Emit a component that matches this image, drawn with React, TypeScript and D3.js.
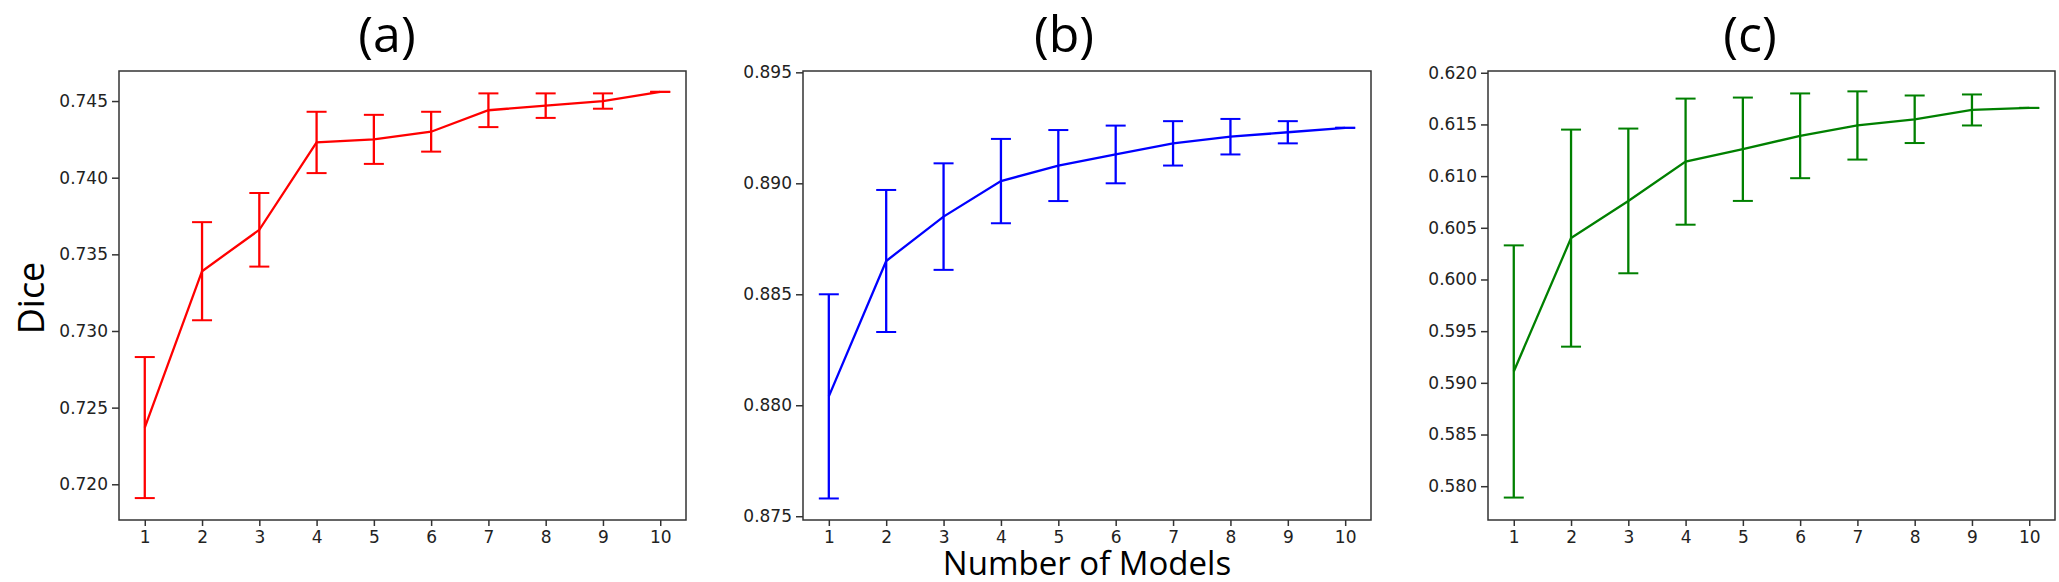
import React, { useEffect, useRef } from 'react';
import * as d3 from 'd3';

// number of models in the ensemble
const modelCounts = [1, 2, 3, 4, 5, 6, 7, 8, 9, 10];

// (a)
const diceA = [0.7237, 0.7339, 0.7366, 0.7423, 0.7425, 0.7430, 0.7444, 0.7447, 0.7450, 0.7456];
const errA = [0.0046, 0.0032, 0.0024, 0.0020, 0.0016, 0.0013, 0.0011, 0.0008, 0.0005, 0.0000];
const ticksA = [0.720, 0.725, 0.730, 0.735, 0.740, 0.745];

// (b)
const diceB = [0.8804, 0.8865, 0.8885, 0.8901, 0.8908, 0.8913, 0.8918, 0.8921, 0.8923, 0.8925];
const errB = [0.0046, 0.0032, 0.0024, 0.0019, 0.0016, 0.0013, 0.0010, 0.0008, 0.0005, 0.0000];
const ticksB = [0.875, 0.880, 0.885, 0.890, 0.895];

// (c)
const diceC = [0.5911, 0.6040, 0.6076, 0.6114, 0.6126, 0.6139, 0.6149, 0.6155, 0.6164, 0.6166];
const errC = [0.0122, 0.0105, 0.0070, 0.0061, 0.0050, 0.0041, 0.0033, 0.0023, 0.0015, 0.0000];
const ticksC = [0.580, 0.585, 0.590, 0.595, 0.600, 0.605, 0.610, 0.615, 0.620];

const panels = [
  { title: '(a)', values: diceA, errors: errA, ticks: ticksA, domain: [0.71767, 0.74696], color: '#ff0000', left: 119, right: 686, titleX: 387 },
  { title: '(b)', values: diceB, errors: errB, ticks: ticksB, domain: [0.87483, 0.89506], color: '#0000ff', left: 803, right: 1371, titleX: 1064 },
  { title: '(c)', values: diceC, errors: errC, ticks: ticksC, domain: [0.57673, 0.62017], color: '#008000', left: 1488, right: 2055, titleX: 1750 },
];

const WIDTH = 2059;
const HEIGHT = 582;
const TOP = 71;
const BOTTOM = 520;

const App: React.FC = () => {
  const svgRef = useRef<SVGSVGElement>(null);

  useEffect(() => {
    if (!svgRef.current) return;
    const svg = d3.select(svgRef.current);
    svg.selectAll('*').remove();

    svg.append('rect').attr('width', WIDTH).attr('height', HEIGHT).attr('fill', '#fff');

    panels.forEach(p => {
      const x = d3.scaleLinear().domain([0.55, 10.45]).range([p.left, p.right]);
      const y = d3.scaleLinear().domain(p.domain).range([BOTTOM, TOP]);
      const g = svg.append('g');

      // y axis
      const yAxis = g.append('g')
        .attr('transform', `translate(${p.left},0)`)
        .call(d3.axisLeft(y).tickValues(p.ticks).tickFormat(d3.format('.3f')).tickSize(7).tickPadding(4));
      yAxis.select('.domain').remove();
      yAxis.selectAll('line').attr('stroke', '#333').attr('stroke-width', 1.5);
      yAxis.selectAll('text')
        .attr('font-family', 'DejaVu Sans')
        .attr('font-size', 17)
        .attr('fill', '#222');

      // x axis
      const xAxis = g.append('g')
        .attr('transform', `translate(0,${BOTTOM})`)
        .call(d3.axisBottom(x).tickValues(modelCounts).tickFormat(d3.format('d')).tickSize(6).tickPadding(5));
      xAxis.select('.domain').remove();
      xAxis.selectAll('line').attr('stroke', '#333').attr('stroke-width', 1.5);
      xAxis.selectAll('text')
        .attr('font-family', 'DejaVu Sans')
        .attr('font-size', 17)
        .attr('fill', '#222');

      // frame
      g.append('rect')
        .attr('x', p.left)
        .attr('y', TOP)
        .attr('width', p.right - p.left)
        .attr('height', BOTTOM - TOP)
        .attr('fill', 'none')
        .attr('stroke', '#333')
        .attr('stroke-width', 1.5);

      const pts = modelCounts.map((m, i) => ({ m, v: p.values[i], e: p.errors[i] }));

      // mean line
      const line = d3.line<{ m: number; v: number }>().x(d => x(d.m)).y(d => y(d.v));
      g.append('path')
        .datum(pts)
        .attr('d', line)
        .attr('fill', 'none')
        .attr('stroke', p.color)
        .attr('stroke-width', 2.3);

      // error bars
      const eb = g.selectAll('.eb').data(pts).enter().append('g').attr('class', 'eb');
      eb.append('line')
        .attr('x1', d => x(d.m)).attr('x2', d => x(d.m))
        .attr('y1', d => y(d.v - d.e)).attr('y2', d => y(d.v + d.e))
        .attr('stroke', p.color).attr('stroke-width', 2.3);
      [-1, 1].forEach(s => {
        eb.append('line')
          .attr('x1', d => x(d.m) - 10).attr('x2', d => x(d.m) + 10)
          .attr('y1', d => y(d.v + s * d.e)).attr('y2', d => y(d.v + s * d.e))
          .attr('stroke', p.color).attr('stroke-width', 2);
      });

      // panel title
      svg.append('text')
        .attr('x', p.titleX)
        .attr('y', 52)
        .attr('text-anchor', 'middle')
        .attr('font-family', 'Open Sans')
        .attr('font-size', 50)
        .attr('fill', '#000')
        .text(p.title);
    });

    svg.append('text')
      .attr('transform', 'translate(44,298) rotate(-90)')
      .attr('text-anchor', 'middle')
      .attr('font-family', 'Open Sans')
      .attr('font-size', 36)
      .attr('fill', '#000')
      .text('Dice');

    svg.append('text')
      .attr('x', 1087)
      .attr('y', 575)
      .attr('text-anchor', 'middle')
      .attr('font-family', 'Open Sans')
      .attr('font-size', 33)
      .attr('fill', '#000')
      .text('Number of Models');
  }, []);

  return (
    <svg
      ref={svgRef}
      width={WIDTH}
      height={HEIGHT}
      style={{ position: 'absolute', left: 0, top: 0 }}
    ></svg>
  );
};

export default App;
